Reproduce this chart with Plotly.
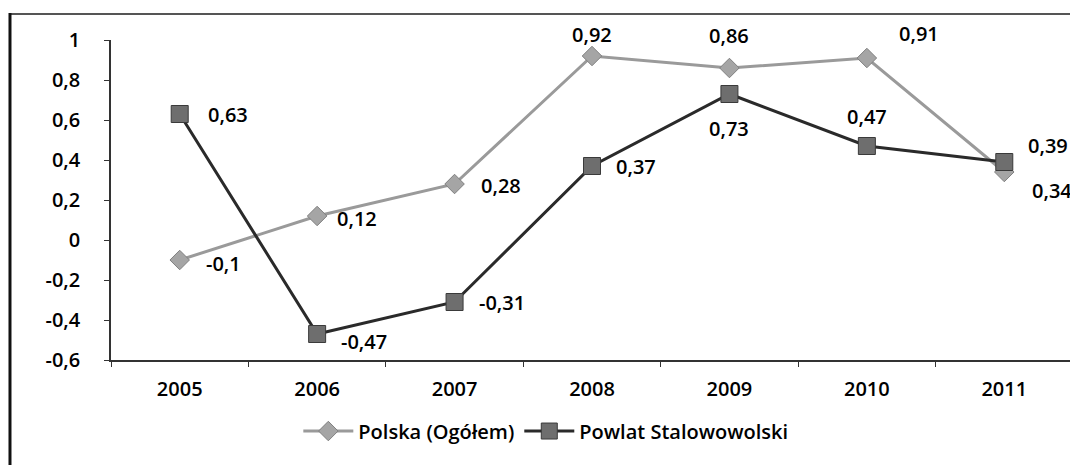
import plotly.graph_objects as go

years = [2005, 2006, 2007, 2008, 2009, 2010, 2011]
year_labels = ["2005", "2006", "2007", "2008", "2009", "2010", "2011"]
polska = [-0.10, 0.12, 0.28, 0.92, 0.86, 0.91, 0.34]
powiat = [0.63, -0.47, -0.31, 0.37, 0.73, 0.47, 0.39]
name_polska = "Polska (Ogółem)"
name_powiat = "Powlat Stalowowolski"
y_ticks = [-0.6, -0.4, -0.2, 0, 0.2, 0.4, 0.6, 0.8, 1]

# label placements (style): (xshift, yshift, xanchor)
pos_polska = [(24, -3, "left"), (18, -2, "left"), (24, -1, "left"), (0, 22, "center"),
              (0, 33, "center"), (30, 25, "left"), (26, -18, "left")]
pos_powiat = [(26, 0, "left"), (22, -7, "left"), (22, 0, "left"), (22, 0, "left"),
              (0, -34, "center"), (0, 30, "center"), (22, 17, "left")]

def fmt(v):
    return ("%g" % v).replace(".", ",")

font = dict(family="'Open Sans', Lato, sans-serif", size=20, color="#000", weight=600)

fig = go.Figure()
fig.add_trace(go.Scatter(
    x=years, y=polska, name=name_polska, mode="lines+markers",
    line=dict(color="#9a9a9a", width=3),
    marker=dict(symbol="diamond", size=15, color="#a5a5a5", line=dict(color="#808080", width=1)),
))
fig.add_trace(go.Scatter(
    x=years, y=powiat, name=name_powiat, mode="lines+markers",
    line=dict(color="#2a2a2a", width=3),
    marker=dict(symbol="square", size=17, color="#6e6e6e", line=dict(color="#3a3a3a", width=1)),
))

annotations = []
for vals, poss in ((polska, pos_polska), (powiat, pos_powiat)):
    for x, v, (dx, dy, xa) in zip(years, vals, poss):
        annotations.append(dict(x=x, y=v, text=fmt(v), showarrow=False, xshift=dx, yshift=dy,
                                xanchor=xa, yanchor="middle", font=font))

boundaries = [y - 0.5 for y in years] + [years[-1] + 0.5]

fig.update_layout(
    width=1078, height=465,
    margin=dict(l=103, r=13, t=32, b=113),
    paper_bgcolor="white", plot_bgcolor="white",
    font=font,
    showlegend=True,
    legend=dict(orientation="h", x=0.452, xanchor="center", y=-0.222, yanchor="middle",
                font=font, bgcolor="rgba(0,0,0,0)", itemwidth=50),
    annotations=annotations,
    xaxis=dict(range=[years[0] - 0.5, years[-1] + 0.5], showline=True, linecolor="#333", linewidth=1.5,
               tickmode="array", tickvals=years, ticktext=year_labels, ticks="",
               minor=dict(tickmode="array", tickvals=boundaries, ticks="outside", ticklen=5,
                          tickcolor="#333", showgrid=False),
               showgrid=False, zeroline=False, tickangle=0, tickfont=font, fixedrange=True,
               ticklabelstandoff=10),
    yaxis=dict(range=[-0.6, 1], showline=True, linecolor="#333", linewidth=1.5,
               ticks="outside", ticklen=5, tickcolor="#333", showgrid=False, zeroline=False,
               tickmode="array", tickvals=y_ticks, ticktext=[fmt(v) for v in y_ticks],
               tickfont=font, fixedrange=True, ticklabelstandoff=20),
    shapes=[
        dict(type="line", xref="paper", yref="paper", x0=-0.105, x1=1.02, y0=1.081, y1=1.081,
             line=dict(color="#555", width=2)),
        dict(type="line", xref="paper", yref="paper", x0=-0.105, x1=-0.105, y0=1.084, y1=-0.4,
             line=dict(color="#111", width=3)),
    ],
)

fig.write_html("out.html")
